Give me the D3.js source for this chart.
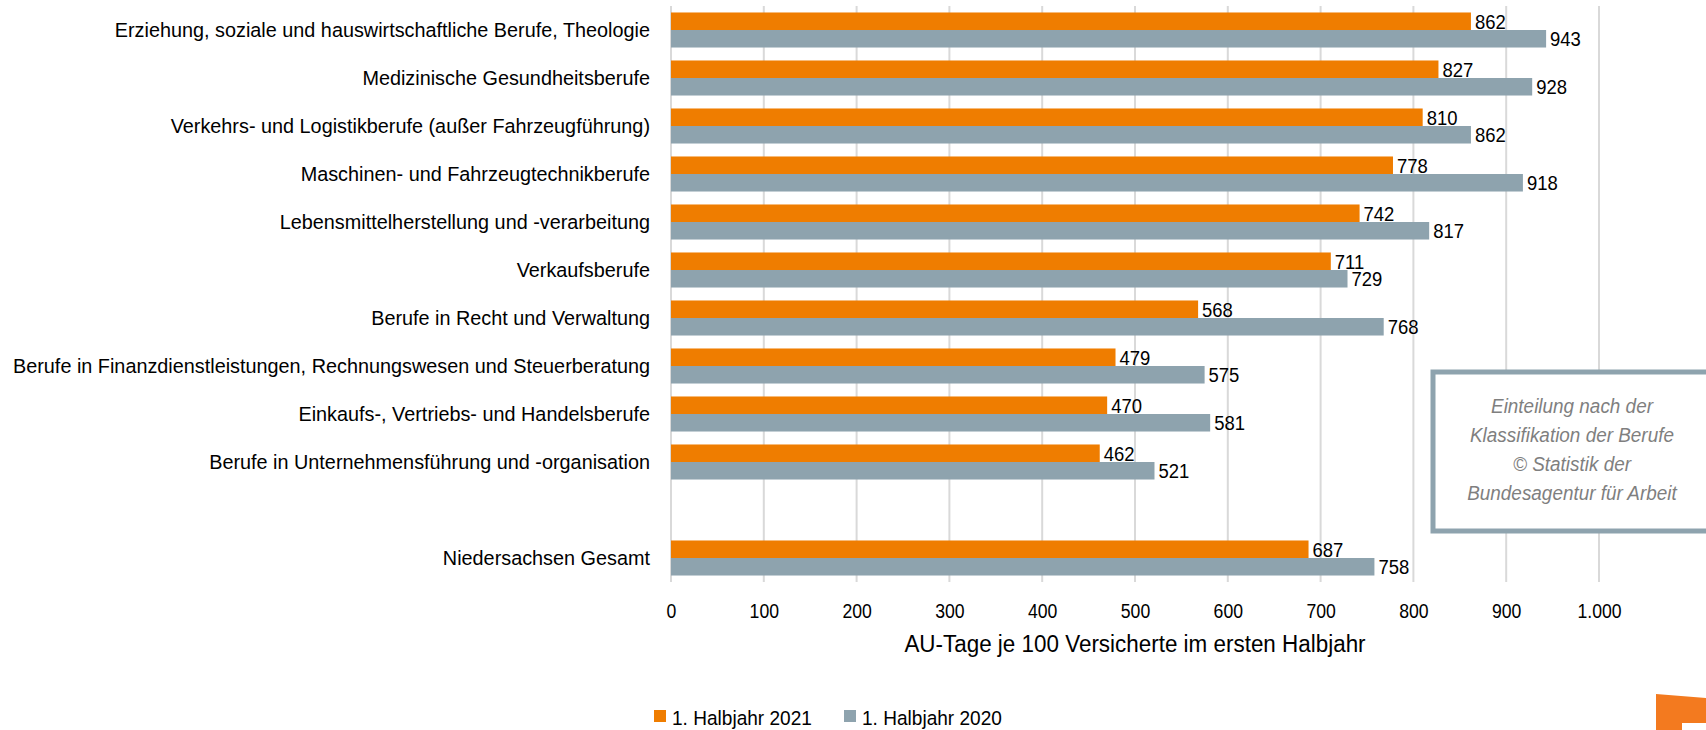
<!DOCTYPE html>
<html>
<head>
<meta charset="utf-8">
<script src="https://cdn.jsdelivr.net/npm/d3@7"></script>
<style>
  html, body { margin: 0; padding: 0; background: #fff; }
  svg { display: block; font-family: "Liberation Sans", Arial, sans-serif; }
</style>
</head>
<body>
<svg id="chart" width="1706" height="730"></svg>
<script>
const categories = [
  "Erziehung, soziale und hauswirtschaftliche Berufe, Theologie",
  "Medizinische Gesundheitsberufe",
  "Verkehrs- und Logistikberufe (außer Fahrzeugführung)",
  "Maschinen- und Fahrzeugtechnikberufe",
  "Lebensmittelherstellung und -verarbeitung",
  "Verkaufsberufe",
  "Berufe in Recht und Verwaltung",
  "Berufe in Finanzdienstleistungen, Rechnungswesen und Steuerberatung",
  "Einkaufs-, Vertriebs- und Handelsberufe",
  "Berufe in Unternehmensführung und -organisation",
  "",
  "Niedersachsen Gesamt"
];
const values2021 = [862, 827, 810, 778, 742, 711, 568, 479, 470, 462, null, 687];
const values2020 = [943, 928, 862, 918, 817, 729, 768, 575, 581, 521, null, 758];
const seriesNames = ["1. Halbjahr 2021", "1. Halbjahr 2020"];
const tickValues = [0, 100, 200, 300, 400, 500, 600, 700, 800, 900, 1000];
const tickLabels = ["0", "100", "200", "300", "400", "500", "600", "700", "800", "900", "1.000"];
const axisTitle = "AU-Tage je 100 Versicherte im ersten Halbjahr";
const noteLines = ["Einteilung nach der", "Klassifikation der Berufe", "© Statistik der", "Bundesagentur für Arbeit"];

const colors = ["#EF7D00", "#8EA3AE"];
const svg = d3.select("#chart");

const x = d3.scaleLinear().domain([0, 1000]).range([671, 1599]);
const y = d3.scaleBand().domain(d3.range(categories.length)).range([6, 582])
  .paddingInner(0.27).paddingOuter(0.135);
const sub = d3.scaleBand().domain([0, 1]).range([0, y.bandwidth()]);

function squeeze(sel, k) {
  sel.each(function() {
    const w = this.getComputedTextLength();
    d3.select(this).attr("textLength", w * k).attr("lengthAdjust", "spacingAndGlyphs");
  });
}

// gridlines
svg.append("g").selectAll("line").data(tickValues).join("line")
  .attr("x1", d => x(d)).attr("x2", d => x(d))
  .attr("y1", 6).attr("y2", 582)
  .attr("stroke", "#d9d9d9").attr("stroke-width", 2);

// bars
const rows = categories.map((c, i) => ({ i, v: [values2021[i], values2020[i]] })).filter(r => r.v[0] != null);

const gRows = svg.append("g").selectAll("g").data(rows).join("g")
  .attr("transform", r => `translate(0,${y(r.i)})`);

gRows.selectAll("rect").data(r => r.v.map((v, s) => ({ v, s }))).join("rect")
  .attr("x", x(0)).attr("y", d => sub(d.s))
  .attr("width", d => x(d.v) - x(0)).attr("height", sub.bandwidth())
  .attr("fill", d => colors[d.s]);

gRows.selectAll("text").data(r => r.v.map((v, s) => ({ v, s }))).join("text")
  .attr("x", d => x(d.v) + 4).attr("y", d => sub(d.s) + sub.bandwidth() / 2)
  .attr("dy", "0.36em")
  .attr("font-size", 20.5).attr("fill", "#000")
  .text(d => d.v)
  .call(squeeze, 0.9);

// category labels
svg.append("g").selectAll("text").data(categories).join("text")
  .attr("x", 650).attr("y", (d, i) => y(i) + y.bandwidth() / 2)
  .attr("dy", "0.36em").attr("text-anchor", "end")
  .attr("font-size", 20.5).attr("fill", "#000")
  .text(d => d)
  .call(squeeze, 0.967);

// x axis tick labels
const xAxis = d3.axisBottom(x).tickValues(tickValues)
  .tickFormat((d, i) => tickLabels[i]).tickSize(0).tickPadding(0);
const ax = svg.append("g").attr("transform", "translate(0,603)").call(xAxis);
ax.select(".domain").remove();
ax.selectAll("text").attr("font-size", 20.5).attr("fill", "#000")
  .attr("font-family", "Liberation Sans, Arial, sans-serif")
  .attr("dy", "0.71em").call(squeeze, 0.86);

// axis title
svg.append("text").attr("x", (x(0) + x(1000)) / 2).attr("y", 652)
  .attr("text-anchor", "middle").attr("font-size", 23).attr("fill", "#000")
  .text(axisTitle).call(squeeze, 0.975);

// legend
const legendX = [654, 844];
const lg = svg.append("g").selectAll("g").data(seriesNames).join("g")
  .attr("transform", (d, i) => `translate(${legendX[i]},710)`);
lg.append("rect").attr("width", 12).attr("height", 12).attr("fill", (d, i) => colors[i]);
lg.append("text").attr("x", 18).attr("y", 14.5).attr("font-size", 20.5).attr("fill", "#000")
  .text(d => d).call(squeeze, 0.93);

// note box
svg.append("rect").attr("x", 1433).attr("y", 372).attr("width", 290).attr("height", 159)
  .attr("fill", "#fff").attr("stroke", "#8EA3AE").attr("stroke-width", 5);
svg.append("g").selectAll("text").data(noteLines).join("text")
  .attr("x", 1572).attr("y", (d, i) => 413 + i * 29)
  .attr("text-anchor", "middle").attr("font-size", 19.5).attr("font-style", "italic")
  .attr("fill", "#7f7f7f").text(d => d).call(squeeze, 0.97);

// logo fragment bottom-right
svg.append("path")
  .attr("d", "M1656,694 L1706,698 L1706,723 L1682,723 L1682,730 L1656,730 Z")
  .attr("fill", "#F37A1F");
</script>
</body>
</html>
